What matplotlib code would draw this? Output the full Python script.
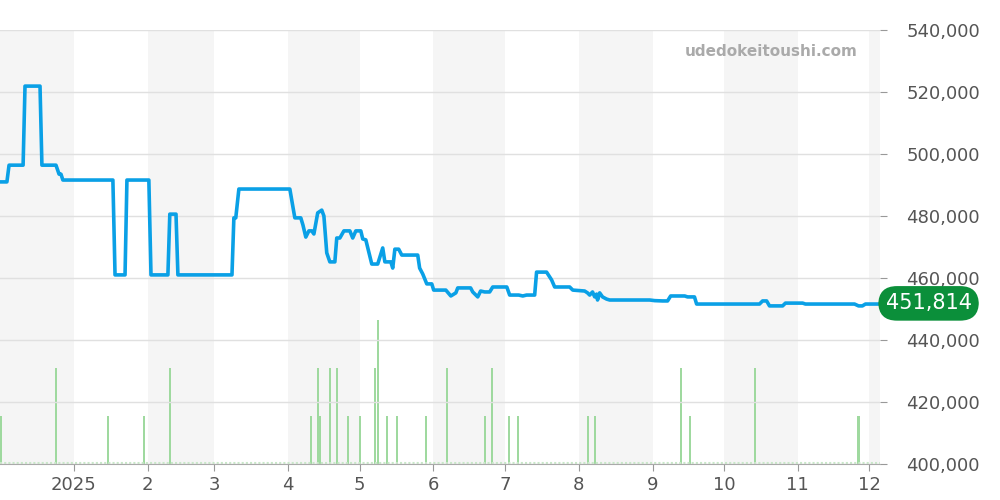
import matplotlib
matplotlib.use("Agg")
import matplotlib.pyplot as plt

# days since 2024-12-01 and price (JPY)
price_days = [0, 2.9, 3.8, 9.7, 10.5, 16.8, 17.6, 23.5, 24.8, 25.6, 26.4, 47.4, 48.3, 52.5, 53.3,
              62.5, 63.4, 70.5, 71.3, 73.9, 74.7, 97.4, 98.2, 99.0, 100.3, 121.7, 123.0, 123.8,
              126.3, 127.2, 128.4, 129.7, 130.9, 131.8, 133.4, 135.1, 136.0, 137.2, 138.5, 140.6,
              141.4, 142.7, 144.4, 146.9, 148.1, 149.4, 151.5, 152.3, 153.6, 156.1, 158.6, 160.7,
              161.6, 164.1, 164.9, 165.8, 167.4, 168.7, 175.4, 176.2, 177.5, 179.2, 181.3, 182.1,
              187.2, 189.3, 191.4, 192.2, 197.6, 198.5, 200.6, 201.8, 203.5, 205.6, 206.9, 212.8,
              214.0, 217.8, 219.5, 221.1, 224.5, 225.3, 229.5, 231.6, 232.9, 239.2, 240.5, 245.5,
              246.7, 247.6, 248.8, 249.7, 250.5, 250.9, 251.8, 253.0, 254.7, 256.0, 272.8, 274.9,
              278.2, 280.3, 281.6, 287.5, 288.7, 291.6, 292.5, 318.9, 320.2, 321.9, 323.1, 328.6,
              329.8, 337.0, 338.2, 358.8, 360.5, 362.1, 363.4, 369.3]
price_vals = [491000, 491000, 496400, 496400, 521900, 521900, 496400, 496400, 493500, 493500, 491600,
              491600, 461000, 461000, 491600, 491600, 461000, 461000, 480600, 480600, 461000,
              461000, 479400, 479400, 488700, 488700, 482900, 479400, 479400, 477100, 473200,
              475200, 475200, 474200, 481000, 481900, 480000, 468100, 465200, 465200, 472900,
              472900, 475200, 475200, 472900, 475200, 475200, 472600, 472300, 464500, 464500,
              469700, 465200, 465200, 463200, 469300, 469300, 467400, 467400, 463200, 461300,
              458100, 458100, 456100, 456100, 454200, 455200, 456800, 456800, 455500, 453900,
              455800, 455500, 455500, 457100, 457100, 454500, 454500, 454200, 454500, 454500,
              461900, 461900, 459400, 457100, 457100, 456100, 455800, 455200, 454500, 455500,
              453900, 454800, 452900, 455200, 453900, 453200, 452900, 452900, 452700, 452600,
              452600, 454200, 454200, 453900, 453900, 451600, 451600, 452600, 452600, 451000,
              451000, 451900, 451900, 451600, 451600, 451000, 451000, 451600, 451600]
last_price = 451814

vol_days = [0.5, 23.5, 45.5, 60.5, 71.5, 130.5, 133.5, 134.5, 138.5, 141.5, 146, 151, 157.5,
            158.8, 162.5, 166.8, 179, 187.8, 203.5, 206.5, 213.8, 217.5, 246.8, 249.8, 285.8,
            289.7, 316.9, 360.5]
vol_vals = [1, 2, 1, 1, 2, 1, 2, 1, 2, 2, 1, 1, 2, 3, 1, 1, 1, 2, 1, 2, 1, 1, 1, 1, 2, 1, 2, 1]

month_days = [31, 62, 90, 121, 151, 182, 212, 243, 274, 304, 335, 365]
month_labels = ["2025", "2", "3", "4", "5", "6", "7", "8", "9", "10", "11", "12"]
shaded = [(0, 31), (62, 90), (121, 151), (182, 212), (243, 274), (304, 335), (365, 370)]

x_end = 369.5

fig = plt.figure(figsize=(10, 5), dpi=100)
rect = [0, 36 / 500, 0.88, 434 / 500]

# background month bands
bg = fig.add_axes(rect, zorder=0)
for a, b in shaded:
    bg.axvspan(a, b, color="#f5f5f5", lw=0)
bg.set_xlim(0, x_end)
bg.axis("off")

# volume
axv = fig.add_axes(rect, zorder=1)
axv.bar(vol_days, vol_vals, width=0.9, color="#9fd99f")
axv.axhline(0.02, color="#c8e8c8", lw=1.5, ls=(0, (1, 1)))
axv.set_xlim(0, x_end)
axv.set_ylim(0, 9.04)
axv.axis("off")

# price
ax = fig.add_axes(rect, zorder=2)
ax.patch.set_visible(False)
ax.plot(price_days, price_vals, color="#0aa0e6", lw=2.6, zorder=3, solid_joinstyle="round")

ax.set_xlim(0, x_end)
ax.set_ylim(400000, 540000)
yt = list(range(400000, 540001, 20000))
ax.set_yticks(yt)
ax.set_yticklabels([f"{v:,}" for v in yt], fontsize=13, color="#555555")
ax.yaxis.tick_right()
ax.tick_params(axis="y", length=5, color="#999999", pad=14)
ax.set_xticks(month_days)
ax.set_xticklabels(month_labels, fontsize=13, color="#555555")
ax.tick_params(axis="x", length=5, color="#999999")
ax.grid(axis="y", color="#e0e0e0", lw=1)
for s in ["top", "left", "right"]:
    ax.spines[s].set_visible(False)
ax.spines["bottom"].set_color("#aaaaaa")

ax.text(0.975, 0.95, "udedokeitoushi.com", transform=ax.transAxes, ha="right", va="center",
        fontsize=11, fontweight="bold", color="#aaaaaa")

ax.annotate(f"{last_price:,}", xy=(1.0, last_price), xycoords=("axes fraction", "data"),
            xytext=(4, 0), textcoords="offset points", ha="left", va="center",
            fontsize=15, color="white", annotation_clip=False,
            bbox=dict(boxstyle="round,pad=0.35,rounding_size=0.9", fc="#0b8f3a", ec="none"))

fig.savefig("out.png", dpi=100)
